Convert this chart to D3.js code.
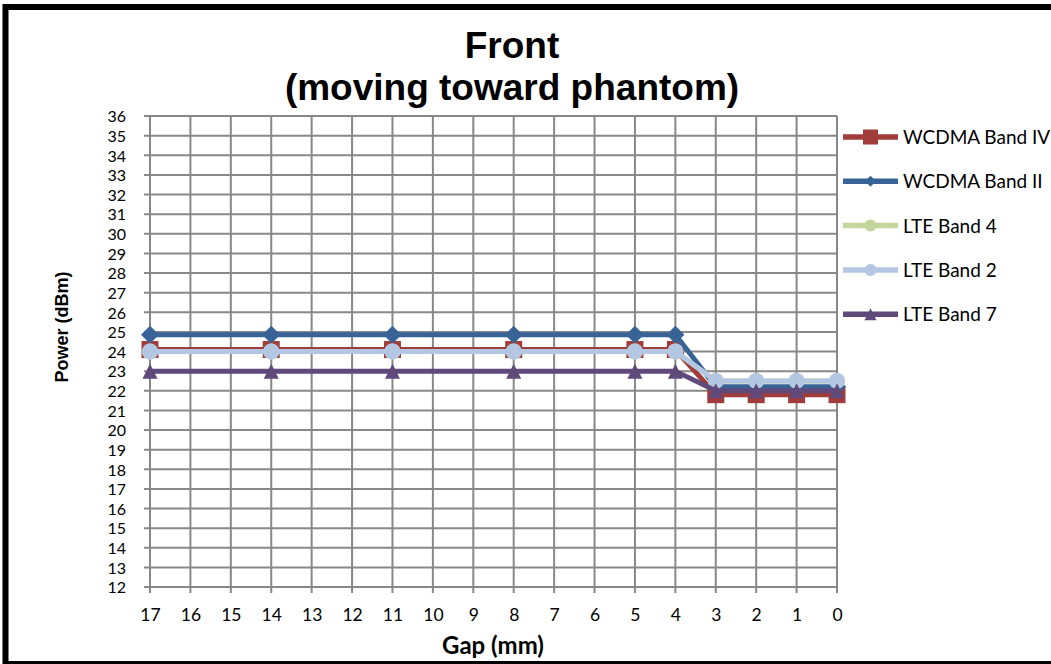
<!DOCTYPE html>
<html>
<head>
<meta charset="utf-8">
<script src="https://cdn.jsdelivr.net/npm/d3@7"></script>
<style>
  html, body { margin: 0; padding: 0; background: #fff; }
  svg { display: block; }
</style>
</head>
<body>
<script>
// Gap positions along the category axis (mm), left to right
const gapLabels = ["17","16","15","14","13","12","11","10","9","8","7","6","5","4","3","2","1","0"];
// Gaps at which power was measured
const measuredGaps = ["17","14","11","8","5","4","3","2","1","0"];
// Power (dBm) per series at each measured gap
const wcdmaBandIV = [24.1, 24.1, 24.1, 24.1, 24.1, 24.1, 21.8, 21.8, 21.8, 21.8];
const wcdmaBandII = [24.85, 24.85, 24.85, 24.85, 24.85, 24.85, 22.2, 22.2, 22.2, 22.2];
const lteBand4 = [24.0, 24.0, 24.0, 24.0, 24.0, 24.0, 22.5, 22.5, 22.5, 22.5];
const lteBand2 = [24.0, 24.0, 24.0, 24.0, 24.0, 24.0, 22.5, 22.5, 22.5, 22.5];
const lteBand7 = [23.0, 23.0, 23.0, 23.0, 23.0, 23.0, 22.0, 22.0, 22.0, 22.0];
const seriesNames = ["WCDMA Band IV", "WCDMA Band II", "LTE Band 4", "LTE Band 2", "LTE Band 7"];
const yTicks = d3.range(12, 37);

const seriesValues = [wcdmaBandIV, wcdmaBandII, lteBand4, lteBand2, lteBand7];
const seriesColors = ["#A03C39", "#386396", "#C3D69B", "#B4C7E2", "#604A7B"];
const seriesMarkers = ["square", "diamond", "circle", "circle", "triangle"];

const W = 1051, H = 664;
const plot = { left: 150, right: 837, top: 116, bottom: 587 };
const gridColor = "#888888";
const calibriLike = "Lato, 'Open Sans', sans-serif";
const arialLike = "'Liberation Sans', Arial, sans-serif";

const svg = d3.select("body").append("svg")
  .attr("width", W).attr("height", H);

svg.append("rect").attr("width", W).attr("height", H).attr("fill", "#fff");

const x = d3.scalePoint().domain(gapLabels).range([plot.left, plot.right]).padding(0);
const y = d3.scaleLinear().domain([12, 36]).range([plot.bottom, plot.top]);

// Grid
const grid = svg.append("g").attr("stroke", gridColor).attr("stroke-width", 2);
grid.selectAll("line.h").data(yTicks).join("line").attr("class", "h")
  .attr("x1", plot.left - 6).attr("x2", plot.right)
  .attr("y1", d => y(d)).attr("y2", d => y(d));
grid.selectAll("line.v").data(gapLabels).join("line").attr("class", "v")
  .attr("x1", d => x(d)).attr("x2", d => x(d))
  .attr("y1", plot.top).attr("y2", plot.bottom + 6);

// Axes (labels only; lines are part of the grid)
const yAxis = svg.append("g")
  .attr("transform", `translate(${plot.left - 24},0)`)
  .call(d3.axisLeft(y).tickValues(yTicks).tickSize(0).tickPadding(0).tickFormat(d3.format("d")));
yAxis.select(".domain").remove();
yAxis.selectAll("text")
  .attr("font-family", calibriLike).attr("font-size", 16).attr("fill", "#000")
  .attr("dy", "0.36em");

const xAxis = svg.append("g")
  .attr("transform", `translate(0,${plot.bottom})`)
  .call(d3.axisBottom(x).tickSize(0).tickPadding(0));
xAxis.select(".domain").remove();
xAxis.selectAll("text")
  .attr("font-family", calibriLike).attr("font-size", 17.5).attr("fill", "#000")
  .attr("y", 34).attr("dy", 0);

// Markers
function drawMarker(sel, type, color, s) {
  if (type === "square") {
    sel.append("rect").attr("x", -s / 2).attr("y", -s / 2).attr("width", s).attr("height", s).attr("fill", color);
  } else if (type === "diamond") {
    const h = s / 2;
    sel.append("path").attr("d", `M0,${-h}L${h},0L0,${h}L${-h},0Z`).attr("fill", color);
  } else if (type === "circle") {
    sel.append("circle").attr("r", s / 2).attr("fill", color);
  } else if (type === "triangle") {
    const h = s / 2;
    sel.append("path").attr("d", `M0,${-h}L${h},${h}L${-h},${h}Z`).attr("fill", color);
  }
}

const chartMarkerSize = { square: 17, diamond: 18, circle: 16, triangle: 15 };
const legendMarkerSize = { square: 15, diamond: 11, circle: 12, triangle: 12 };

const line = d3.line().x(d => x(d.gap)).y(d => y(d.value));

seriesValues.forEach((vals, i) => {
  const pts = vals.map((v, j) => ({ gap: measuredGaps[j], value: v }));
  const g = svg.append("g");
  g.append("path").datum(pts).attr("d", line)
    .attr("fill", "none").attr("stroke", seriesColors[i])
    .attr("stroke-width", 5).attr("stroke-linejoin", "round");
  g.selectAll("g.m").data(pts).join("g").attr("class", "m")
    .attr("transform", d => `translate(${x(d.gap)},${y(d.value)})`)
    .each(function () { drawMarker(d3.select(this), seriesMarkers[i], seriesColors[i], chartMarkerSize[seriesMarkers[i]]); });
});

// Legend
const legend = svg.append("g");
const legendTop = 137, legendStep = 44.3;
seriesNames.forEach((name, i) => {
  const cy = legendTop + i * legendStep;
  const g = legend.append("g").attr("transform", `translate(0,${cy})`);
  g.append("line").attr("x1", 843).attr("x2", 898).attr("y1", 0).attr("y2", 0)
    .attr("stroke", seriesColors[i]).attr("stroke-width", 5.5);
  const m = g.append("g").attr("transform", "translate(870.5,0)");
  drawMarker(m, seriesMarkers[i], seriesColors[i], legendMarkerSize[seriesMarkers[i]]);
  g.append("text").attr("x", 903).attr("y", 7)
    .attr("font-family", calibriLike).attr("font-size", 19).attr("fill", "#000")
    .text(name);
});

// Title
const title = svg.append("text").attr("text-anchor", "middle")
  .attr("font-family", arialLike).attr("font-weight", "bold").attr("font-size", 37).attr("fill", "#000");
title.append("tspan").attr("x", 512).attr("y", 58).text("Front");
title.append("tspan").attr("x", 512).attr("y", 100).text("(moving toward phantom)");

// Axis titles
svg.append("text").attr("transform", "translate(68,327) rotate(-90)")
  .attr("text-anchor", "middle")
  .attr("font-family", arialLike).attr("font-weight", "bold").attr("font-size", 18).attr("fill", "#000")
  .text("Power (dBm)");

svg.append("text").attr("x", 493).attr("y", 654).attr("text-anchor", "middle")
  .attr("font-family", calibriLike).attr("font-weight", "bold").attr("font-size", 24).attr("fill", "#000")
  .text("Gap (mm)");

// Outer frame
svg.append("rect").attr("x", 5.5).attr("y", 7).attr("width", W + 20).attr("height", 657)
  .attr("fill", "none").attr("stroke", "#000").attr("stroke-width", 6);
</script>
</body>
</html>
